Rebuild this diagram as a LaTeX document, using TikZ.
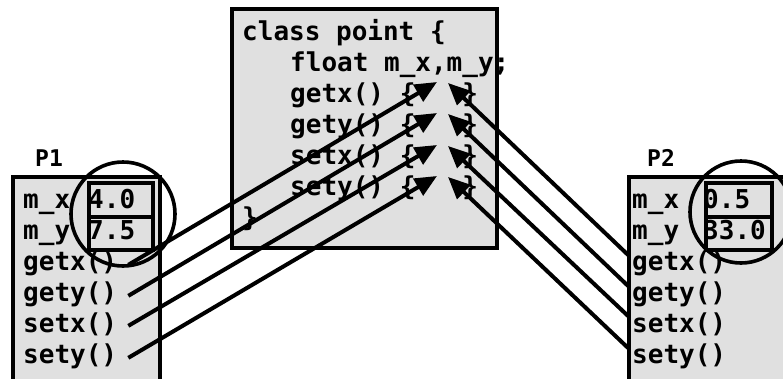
\documentclass[tikz,border=0pt]{standalone}
\usepackage{fontspec}
\setmonofont{DejaVu Sans Mono}
\usetikzlibrary{arrows.meta}
\definecolor{objgray}{gray}{0.88}
\tikzset{
    box/.style={draw, line width=4pt, fill=objgray}, % object and class frames
    code/.style={anchor=base west, inner sep=0pt, font=\ttfamily\bfseries\fontsize{26}{31}\selectfont},
    objname/.style={anchor=base west, inner sep=0pt, font=\ttfamily\bfseries\fontsize{23}{26}\selectfont},
    slot/.style={draw, line width=3.2pt}, % boxes round the member values
    lens/.style={draw, line width=3.6pt}, % circles round the data part
    call/.style={line width=4pt, -{Triangle[length=22pt,width=19pt]}}, % method -> code
    }

\begin{document}
\begin{tikzpicture}[x=1pt, y=-1pt]
\clip (0,0) rectangle (783,378);

% the class in the middle
\draw[box] (232,9) rectangle (497,248);
\node[code] (cls) at (242,40) {class point \{};
\node[code] (fld) at (290,71) {float m\_x,m\_y;};
\node[code] (mgx) at (290,102) {getx() \{\ \ \ \}};
\node[code] (mgy) at (290,133) {gety() \{\ \ \ \}};
\node[code] (msx) at (290,164) {setx() \{\ \ \ \}};
\node[code] (msy) at (290,195) {sety() \{\ \ \ \}};
\node[code] (end) at (242,226) {\}};

% object P1
\node[objname] (p1) at (35,166) {P1};
\draw[box] (13,177) rectangle (160,400);
\node[code] (p1mx) at (23,208) {m\_x};
\node[code] (p1my) at (23,239) {m\_y};
\node[code] (p1gx) at (23,270) {getx()};
\node[code] (p1gy) at (23,301) {gety()};
\node[code] (p1sx) at (23,332) {setx()};
\node[code] (p1sy) at (23,363) {sety()};
\node[code] (p1vx) at (88,208) {4.0};
\node[code] (p1vy) at (88,239) {7.5};
\draw[slot] (89,183) rectangle (153,217);
\draw[slot] (89,217) rectangle (153,250);
\draw[lens] (123,214) circle (52);

% object P2
\node[objname] (p2) at (647,166) {P2};
\draw[box] (629,177) rectangle (800,400);
\node[code] (p2mx) at (632,208) {m\_x};
\node[code] (p2my) at (632,239) {m\_y};
\node[code] (p2gx) at (632,270) {getx()};
\node[code] (p2gy) at (632,301) {gety()};
\node[code] (p2sx) at (632,332) {setx()};
\node[code] (p2sy) at (632,363) {sety()};
\node[code] (p2vx) at (703,208) {0.5};
\node[code] (p2vy) at (703,239) {33.0};
\draw[slot] (706,183) rectangle (772,217);
\draw[slot] (706,217) rectangle (772,250);
\draw[lens] (741,212) circle (51);

% where the calls land in the class code
\coordinate (l1) at (437,82);
\coordinate (l2) at (437,113);
\coordinate (l3) at (437,145);
\coordinate (l4) at (437,176);
\coordinate (r1) at (448,83);
\coordinate (r2) at (448,114);
\coordinate (r3) at (448,146);
\coordinate (r4) at (448,177);

\draw[call] ([xshift=11pt, yshift=-2pt]p1gx.east) -- (l1);
\draw[call] ([xshift=11pt, yshift=-2pt]p1gy.east) -- (l2);
\draw[call] ([xshift=11pt, yshift=-2pt]p1sx.east) -- (l3);
\draw[call] ([xshift=11pt, yshift=-2pt]p1sy.east) -- (l4);
\draw[call] ([xshift=-3pt, yshift=7pt]p2gx.west) -- (r1);
\draw[call] ([xshift=-3pt, yshift=7pt]p2gy.west) -- (r2);
\draw[call] ([xshift=-3pt, yshift=7pt]p2sx.west) -- (r3);
\draw[call] ([xshift=-3pt, yshift=7pt]p2sy.west) -- (r4);
\end{tikzpicture}
\end{document}
